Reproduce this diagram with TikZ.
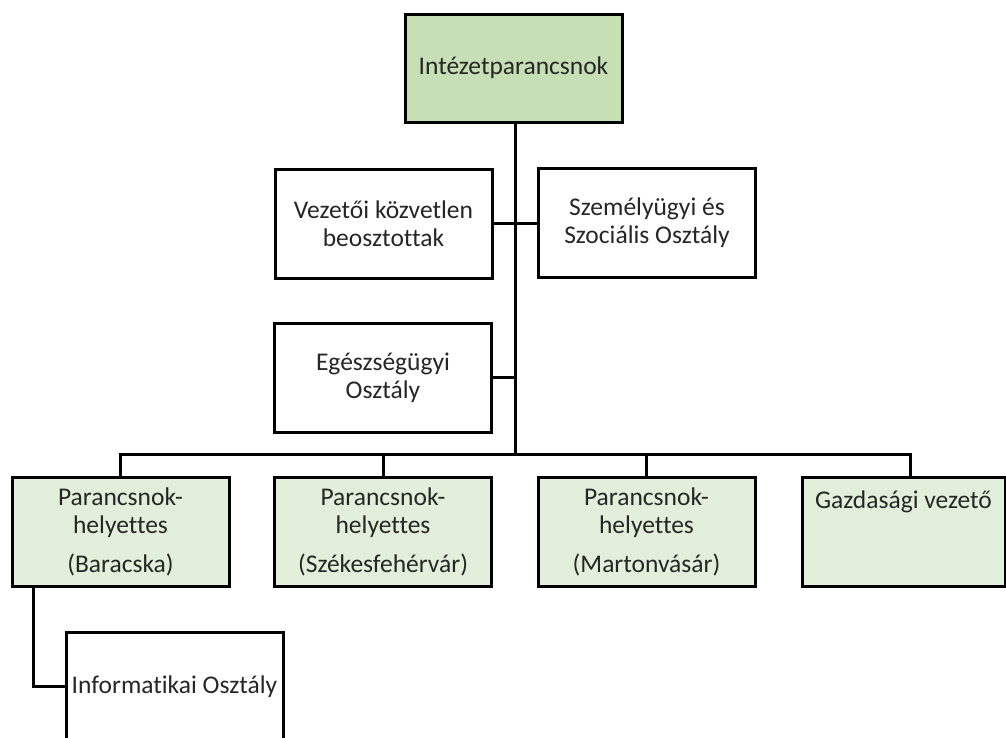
\documentclass[tikz,border=0pt]{standalone}
\usepackage{fontspec}
\setmainfont{Carlito}[Ligatures=NoCommon]
\usetikzlibrary{calc}
\definecolor{headgreen}{RGB}{198,223,180}
\definecolor{subgreen}{RGB}{226,239,218}
\definecolor{ink}{RGB}{38,38,38}
\tikzset{
  unit/.style={draw=black, line width=3pt, rectangle, inner sep=0pt,
    minimum width=217pt, minimum height=109pt, align=center, text=ink,
    font=\fontsize{25.5}{28}\selectfont},
  office/.style={unit, fill=white},
  lead/.style={unit, fill=headgreen},
  deputy/.style={unit, fill=subgreen},
  link/.style={line width=3pt, draw=black}
}
\begin{document}
\begin{tikzpicture}[x=1pt,y=-1pt]
\useasboundingbox (0,0) rectangle (1006,737);

% boxes
\node[lead, minimum height=108pt] (head) at (513.5,68) {Intézetparancsnok};
\node[office] (vez) at (383.5,223.5) {Vezetői közvetlen\\beosztottak};
\node[office] (szem) at (647,223) {Személyügyi és\\Szociális Osztály};
\node[office] (egesz) at (383,377.5) {Egészségügyi\\Osztály};
\node[deputy] (bar) at (120.5,531.5) {Parancsnok-\\helyettes\\[11pt](Baracska)};
\node[deputy] (szek) at (383,531.5) {Parancsnok-\\helyettes\\[11pt](Székesfehérvár)};
\node[deputy] (mar) at (646.5,531.5) {Parancsnok-\\helyettes\\[11pt](Martonvásár)};
% single line set high in its box
\node[deputy, minimum width=203pt, text height=19pt, text depth=66pt] (gaz) at (903.5,531.5) {Gazdasági vezető};
\node[office] (info) at (174.5,686.5) {Informatikai Osztály};

% connectors
\coordinate (hub) at (515,454);
\coordinate (busL) at (120.5,454);
\coordinate (busR) at (910,454);
\draw[link] (head.south -| hub) -- (hub);
\draw[link] (vez.east) -- (vez.east -| szem.west);
\draw[link] (egesz.east) -- (egesz.east -| hub);
\draw[link] (bar.north) -- (busL) -- (busR) -- (busR |- gaz.north);
\draw[link] (szek.north |- hub) -- (szek.north);
\draw[link] (mar.north |- hub) -- (mar.north);
\draw[link] ([xshift=-87.5pt]bar.south) |- (info.west);
\end{tikzpicture}
\end{document}
